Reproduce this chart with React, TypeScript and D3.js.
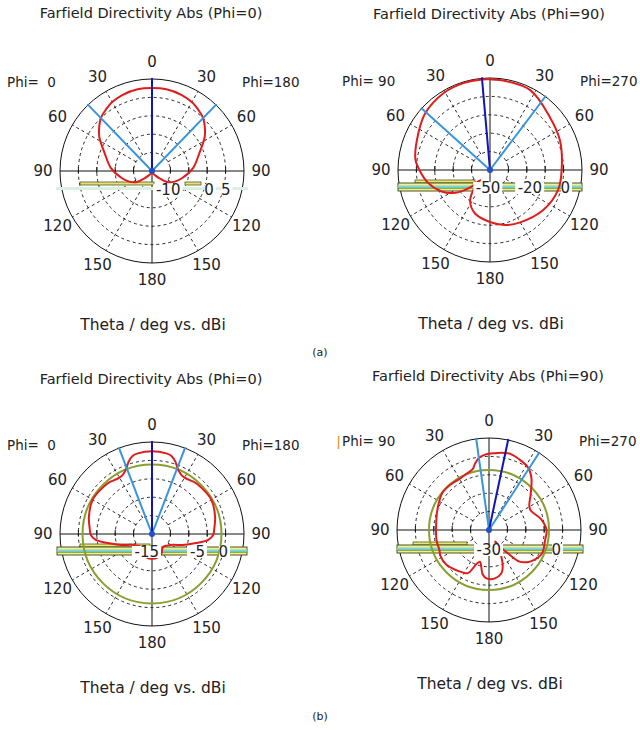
import React from "react";
import * as d3 from "d3";

const W = 640;
const H = 730;

// theta position on the plot (deg, clockwise from top; negative side = first Phi half)
const theta1 = [-150, -135, -126, -115, -103, -86, -69, -57, -50, -44, -39, -30, -21, -10, 0, 10, 21, 30, 39, 44, 50, 57, 69, 86, 103, 115, 126, 135, 150, 180];
const dbi1 = [-18.8, -17.0, -14.4, -12.5, -10.7, -7.7, -4.8, -1.2, 0.6, 2.0, 2.7, 3.8, 4.4, 4.8, 4.8, 4.8, 4.4, 3.8, 2.7, 2.0, 0.6, -1.2, -4.8, -7.7, -10.7, -12.5, -14.4, -17.0, -18.8, -19.4];

const theta2 = [-180, -161, -148, -140, -136, -132, -128, -122, -114, -102, -91, -82, -68, -49, -31, -17, -5, 0, 10, 27, 48, 67, 90, 106, 127, 150, 165];
const dbi2 = [-23.7, -28.0, -34.1, -42.4, -51.0, -43.1, -37.3, -29.8, -23.0, -15.8, -10.8, -7.0, -4.4, 0.7, 3.5, 4.2, 4.2, 4.0, 3.8, 3.1, -3.6, -6.5, -9.6, -10.1, -13.2, -17.6, -20.1];

const theta3 = [-165, -155, -145, -138, -128, -117, -110, -103, -96, -91, -87, -75, -60, -45, -40, -33, -28, -24, -21, -18, -14, -10, 0, 10, 14, 18, 21, 24, 28, 33, 40, 45, 60, 75, 87, 91, 96, 103, 110, 117, 128, 138, 145, 155, 165, 180];
const dbi3 = [-12.4, -12.8, -13.7, -13.9, -13.5, -12.4, -10.6, -8.4, -5.3, -4.3, -4.1, -3.4, -2.7, -2.9, -3.0, -3.4, -3.4, -2.9, -2.2, -1.1, -0.1, 0.2, 0.4, 0.2, -0.1, -1.1, -2.2, -2.9, -3.4, -3.4, -3.0, -2.9, -2.7, -3.4, -4.1, -4.3, -5.3, -8.4, -10.6, -12.4, -13.5, -13.9, -13.7, -12.8, -12.4, -12.2];

const theta4 = [-177, -172, -164, -160, -154, -148, -129, -118, -112, -102, -90, -66, -51, -40, -30, -22, -15, -12, -8, -3, 4, 11, 16, 25, 32, 39, 49, 59, 65, 78, 90, 100, 114, 124, 130, 136, 141, 147, 152, 155, 160, 164, 173];
const dbi4 = [-14.3, -16.0, -22.0, -20.5, -14.5, -13.5, -11.0, -11.0, -11.75, -11.75, -12.0, -10.5, -8.65, -8.75, -9.0, -8.25, -7.0, -4.7, -2.2, -0.75, 0.0, 0.75, 1.0, -0.35, -1.65, -4.8, -10.85, -15.0, -15.5, -12.0, -9.75, -10.0, -9.5, -11.5, -13.5, -16.5, -23.5, -28.5, -32.0, -24.0, -18.5, -16.0, -14.15];

const thetaTicks = [0, 30, 60, 90, 120, 150, 180];

type PanelCfg = {
  cx: number; cy: number; title: string; titleY: number;
  phiLeft: string; phiRight: string; phiLeftX: number;
  domain: [number, number]; dbLabels: number[];
  theta: number[]; dbi: number[];
  mainLobe: number; beamLeft: number; beamRight: number;
  level: number | null; caption: string; faint: boolean;
  bar: { x0: number; x1: number; y: number; up0: number; up1: number };
};

const panels: PanelCfg[] = [
  { cx: 152, cy: 171, title: "Farfield Directivity Abs (Phi=0)", titleY: 18, phiLeft: "Phi=  0", phiRight: "Phi=180", phiLeftX: 7,
    domain: [-20, 7.5], dbLabels: [-10, 0, 5], theta: theta1, dbi: dbi1, mainLobe: 0, beamLeft: -44, beamRight: 44, level: null,
    caption: "Theta / deg vs. dBi", faint: true, bar: { x0: -96, x1: 96, y: 14, up0: -72, up1: 2 } },
  { cx: 490, cy: 170, title: "Farfield Directivity Abs (Phi=90)", titleY: 19, phiLeft: "Phi= 90", phiRight: "Phi=270", phiLeftX: 342,
    domain: [-61, 5], dbLabels: [-50, -20, 0], theta: theta2, dbi: dbi2, mainLobe: -5, beamLeft: -48, beamRight: 37, level: null,
    caption: "Theta / deg vs. dBi", faint: false, bar: { x0: -92, x1: 92, y: 13, up0: -75, up1: -15 } },
  { cx: 152, cy: 534, title: "Farfield Directivity Abs (Phi=0)", titleY: 384, phiLeft: "Phi=  0", phiRight: "Phi=180", phiLeftX: 7,
    domain: [-17.6, 2.4], dbLabels: [-15, -5, 0], theta: theta3, dbi: dbi3, mainLobe: 0, beamLeft: -21, beamRight: 21, level: -2.5,
    caption: "Theta / deg vs. dBi", faint: false, bar: { x0: -95, x1: 95, y: 13, up0: -72, up1: -2 } },
  { cx: 489, cy: 530, title: "Farfield Directivity Abs (Phi=90)", titleY: 381, phiLeft: "Phi= 90", phiRight: "Phi=270", phiLeftX: 342,
    domain: [-38.5, 7.5], dbLabels: [-30, 0], theta: theta4, dbi: dbi4, mainLobe: 12, beamLeft: -8, beamRight: 33, level: -8.5,
    caption: "Theta / deg vs. dBi", faint: false, bar: { x0: -92, x1: 94, y: 15, up0: -76, up1: -22 } },
];

const R = 92;
const FONT = "'DejaVu Sans', Verdana, sans-serif";
const rad = (deg: number) => (deg * Math.PI) / 180;
const px = (deg: number, r: number): [number, number] => [r * Math.sin(rad(deg)), -r * Math.cos(rad(deg))];

function Panel({ p }: { p: PanelCfg }) {
  const r = d3.scaleLinear().domain(p.domain).range([0, R]).clamp(true);
  const line = d3
    .lineRadial<[number, number]>()
    .angle((d) => rad(d[0]))
    .radius((d) => r(d[1]))
    .curve(d3.curveCatmullRomClosed.alpha(0.5));
  const pts: [number, number][] = p.theta.map((t, i) => [t, p.dbi[i]]);
  const rings = [1, 2, 3, 4].map((k) => (R * k) / 5);
  const spokes = [30, 60, 120, 150, -30, -60, -120, -150];
  const b = p.bar;

  return (
    <g>
      <text x={p.cx - 1} y={p.titleY} textAnchor="middle" fontSize={14.5} fill="#222">{p.title}</text>
      <text x={p.phiLeftX} y={p.cy - 84} fontSize={13.5} fill="#222" style={{ whiteSpace: "pre" }}>{p.phiLeft}</text>
      <text x={p.cx + 90} y={p.cy - 84} fontSize={13.5} fill="#222">{p.phiRight}</text>
      <g transform={`translate(${p.cx},${p.cy})`}>
        {rings.map((rr) => (
          <circle key={rr} r={rr} fill="none" stroke="#111" strokeWidth={0.9} strokeDasharray="3,3" />
        ))}
        {spokes.map((s) => {
          const [x1, y1] = px(s, R * 0.2);
          const [x2, y2] = px(s, R);
          return <line key={s} x1={x1} y1={y1} x2={x2} y2={y2} stroke="#111" strokeWidth={0.9} strokeDasharray="3,3" />;
        })}
        <circle r={R} fill="none" stroke="#111" strokeWidth={1} />
        <line x1={-R} x2={R} y1={0} y2={0} stroke="#111" strokeWidth={1} />
        <line x1={0} x2={0} y1={-R} y2={R} stroke="#111" strokeWidth={1} />
        {[-4, -3, -2, -1, 1, 2, 3, 4].map((k) => (
          <line key={k} x1={(R * k) / 5} x2={(R * k) / 5} y1={-4} y2={2} stroke="#111" strokeWidth={1} />
        ))}
        {/* scale bar strip */}
        {p.faint ? (
          <g>
            <rect x={b.x0} y={b.y + 2} width={b.x1 - b.x0} height={3} fill="#dcefe4" />
            <rect x={b.up0} y={b.y - 3} width={b.up1 - b.up0} height={3} fill="#e2e27a" stroke="#5a5a1e" strokeWidth={0.8} />
            <rect x={33} y={b.y - 3} width={16} height={3} fill="#e2e27a" stroke="#5a5a1e" strokeWidth={0.8} />
          </g>
        ) : (
          <g>
            <rect x={b.up0} y={b.y - 3} width={b.up1 - b.up0} height={3} fill="#e6e67a" stroke="#5a5a1e" strokeWidth={0.8} />
            <rect x={b.x0} y={b.y} width={b.x1 - b.x0} height={8} fill="#f0f08c" stroke="#3e3e18" strokeWidth={0.9} />
            <rect x={b.x0} y={b.y + 2.5} width={b.x1 - b.x0} height={2.5} fill="#7fd3dc" />
            <line x1={b.x0} x2={b.x1} y1={b.y + 5.3} y2={b.y + 5.3} stroke="#4a8a2a" strokeWidth={0.8} />
          </g>
        )}
        {p.level !== null && (
          <circle r={r(p.level)} fill="none" stroke="#88a030" strokeWidth={2} />
        )}
        <path d={line(pts) ?? ""} fill="none" stroke="#e01c1c" strokeWidth={2} />
        {[p.beamLeft, p.beamRight].map((a, i) => {
          const [x2, y2] = px(a, R + 1);
          return <line key={i} x1={0} y1={0} x2={x2} y2={y2} stroke="#3a94dc" strokeWidth={2} />;
        })}
        {(() => {
          const [x2, y2] = px(p.mainLobe, R + 1);
          return <line x1={0} y1={0} x2={x2} y2={y2} stroke="#1414b4" strokeWidth={2} />;
        })()}
        <circle r={3} fill="#1e50c8" />
        {p.dbLabels.map((v) => {
          const x = r(v) - 5;
          const w = String(v).length * 9;
          return (
            <g key={v}>
              <rect x={x - w} y={b.y - 1} width={w + 2} height={12} fill="#fff" />
              <text x={x} y={b.y + 10} textAnchor="end" fontSize={15} fill="#222">{String(v)}</text>
            </g>
          );
        })}
        {thetaTicks.flatMap((t) => (t === 0 || t === 180 ? [t] : [t, -t])).map((t) => {
          const [x, y] = px(t, 109);
          return (
            <text key={t} x={x} y={y + 5} textAnchor="middle" fontSize={15} fill="#222">{String(Math.abs(t))}</text>
          );
        })}
      </g>
      <text x={p.cx + 1} y={p.cy + 159} textAnchor="middle" fontSize={15.5} fill="#222">{p.caption}</text>
    </g>
  );
}

export default function App() {
  return (
    <svg
      width={W}
      height={H}
      viewBox={`0 0 ${W} ${H}`}
      style={{ position: "absolute", left: 0, top: 0, fontFamily: FONT, fontVariantLigatures: "none", background: "#fff" }}
    >
      <rect width={W} height={H} fill="#fff" />
      {panels.map((p, i) => (
        <Panel key={i} p={p} />
      ))}
      <line x1={338.5} x2={338.5} y1={436} y2={449} stroke="#e0a040" strokeWidth={1.5} />
      <text x={320} y={356} textAnchor="middle" fontSize={11} fill="#222">(a)</text>
      <text x={320} y={720} textAnchor="middle" fontSize={11} fill="#222">(b)</text>
    </svg>
  );
}
